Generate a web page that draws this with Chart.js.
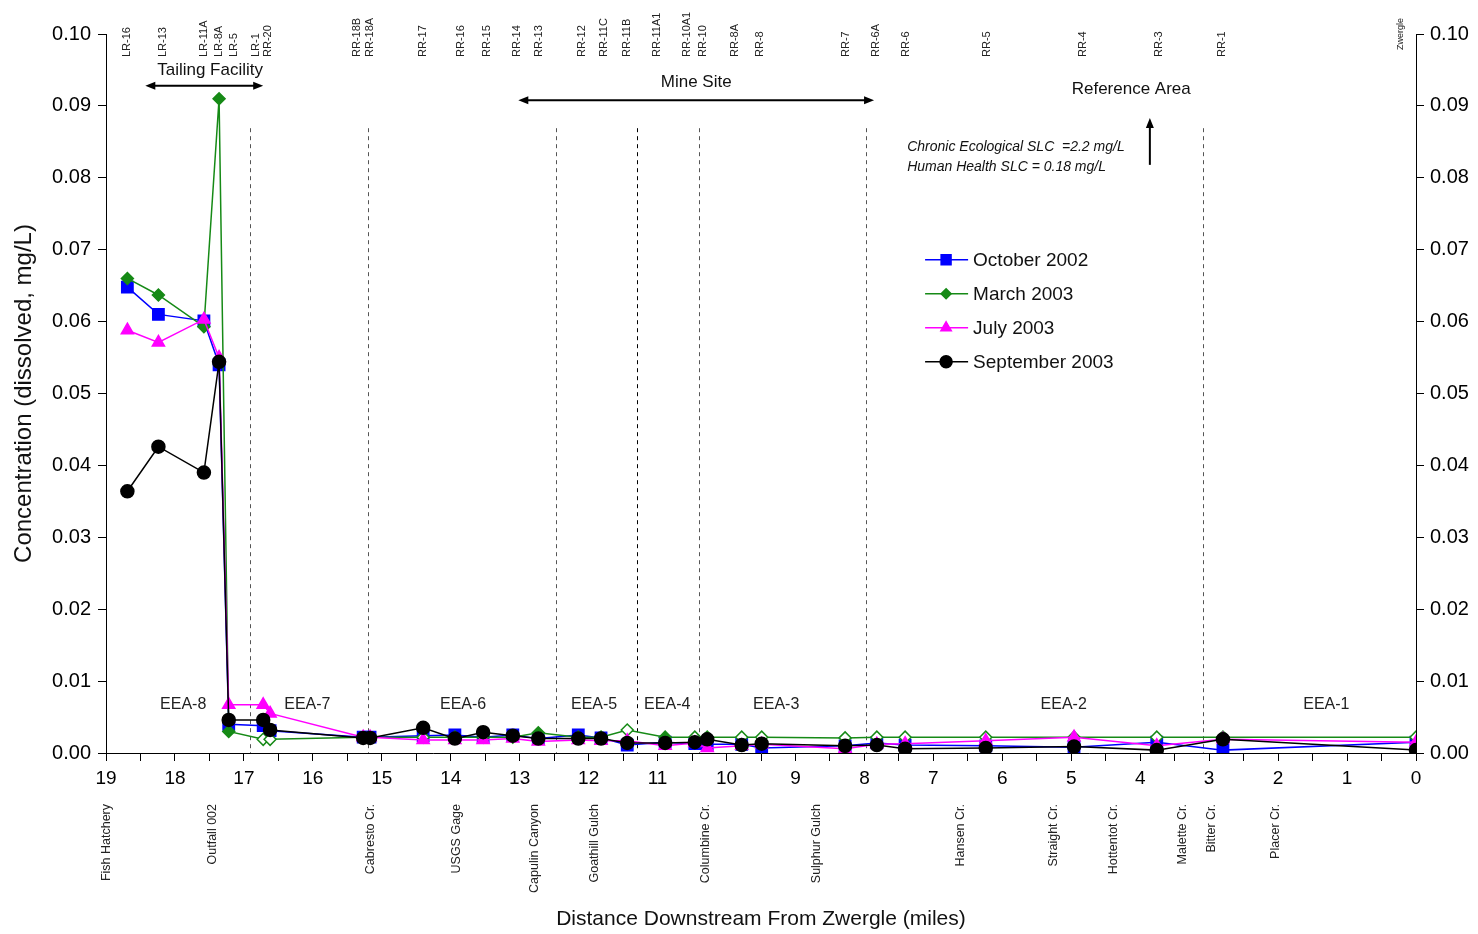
<!DOCTYPE html>
<html>
<head>
<meta charset="utf-8">
<script src="https://cdn.jsdelivr.net/npm/chart.js"></script>
<style>
  body { margin: 0; background: #fff; }
  #wrap { width: 1478px; height: 934px; }
</style>
</head>
<body>
<div id="wrap"><canvas id="chart" width="1478" height="934"></canvas></div>
<script>
// station positions, miles downstream of Zwergle
const miles = [18.69, 18.24, 17.58, 17.36, 17.22, 16.72, 16.62, 15.27, 15.17, 14.40,
               13.94, 13.53, 13.10, 12.73, 12.15, 11.82, 11.44, 10.89, 10.46, 10.28,
               9.78, 9.49, 8.28, 7.82, 7.41, 6.24, 4.96, 3.76, 2.80, 0.00]

const oct2002 = [0.0648, 0.0610, 0.0601, 0.0540, 0.0040, 0.0038, 0.0031, 0.0022, 0.0022, 0.0024,
                 0.0025, 0.0022, 0.0025, 0.0020, 0.0025, 0.0021, 0.0011, 0.0015, 0.0013, 0.0012,
                 0.0012, 0.0007, 0.0010, 0.0014, 0.0011, 0.0010, 0.0008, 0.0015, 0.0004, 0.0015]
const mar2003 = [0.0660, 0.0637, 0.0593, 0.0910, 0.0030, 0.0019, 0.0019, 0.0022, 0.0022, 0.0022,
                 0.0022, 0.0022, 0.0022, 0.0028, 0.0022, 0.0022, 0.0032, 0.0022, 0.0022, 0.0022,
                 0.0022, 0.0022, 0.0021, 0.0022, 0.0022, 0.0022, 0.0022, 0.0022, 0.0022, 0.0022]
// false = open marker (at detection limit)
const mar2003Detected = [true, true, true, true, true, false, false, false, false, false,
                         false, false, false, true, false, false, false, true, false, false,
                         false, false, false, false, false, false, false, false, false, false]
const jul2003 = [0.0588, 0.0571, 0.0603, 0.0550, 0.0067, 0.0067, 0.0055, 0.0022, 0.0022, 0.0018,
                 0.0018, 0.0018, 0.0020, 0.0016, 0.0018, 0.0017, 0.0017, 0.0010, 0.0014, 0.0007,
                 0.0010, 0.0012, 0.0006, 0.0012, 0.0013, 0.0017, 0.0022, 0.0010, 0.0019, 0.0015]
const sep2003 = [0.0364, 0.0426, 0.0390, 0.0544, 0.0046, 0.0046, 0.0032, 0.0021, 0.0021, 0.0035,
                 0.0020, 0.0029, 0.0024, 0.0020, 0.0020, 0.0020, 0.0014, 0.0014, 0.0015, 0.0019,
                 0.0011, 0.0013, 0.0010, 0.0011, 0.0006, 0.0007, 0.0009, 0.0004, 0.0019, 0.0004]

// sampling station names along the top
const stationNames = ["LR-16", "LR-13", "LR-11A", "LR-8A", "LR-5", "LR-1", "RR-20", "RR-18B", "RR-18A",
                      "RR-17", "RR-16", "RR-15", "RR-14", "RR-13", "RR-12", "RR-11C", "RR-11B", "RR-11A1",
                      "RR-10A1", "RR-10", "RR-8A", "RR-8", "RR-7", "RR-6A", "RR-6", "RR-5", "RR-4", "RR-3", "RR-1"]
const stationMiles = [18.69, 18.17, 17.58, 17.36, 17.14, 16.82, 16.65, 15.36, 15.17,
                      14.40, 13.85, 13.47, 13.04, 12.72, 12.10, 11.78, 11.44, 11.01,
                      10.57, 10.34, 9.88, 9.51, 8.27, 7.83, 7.40, 6.22, 4.83, 3.73, 2.81]

// landmarks under the x axis
const landmarkNames = ["Fish Hatchery", "Outfall 002", "Cabresto Cr.", "USGS Gage", "Capulin Canyon",
                       "Goathill Gulch", "Columbine Cr.", "Sulphur Gulch", "Hansen Cr.", "Straight Cr.",
                       "Hottentot Cr.", "Malette Cr.", "Bitter Cr.", "Placer Cr."]
const landmarkMiles = [18.99, 17.45, 15.17, 13.92, 12.78, 11.92, 10.30, 8.69, 6.60, 5.25, 4.39, 3.39, 2.96, 2.04]

// evaluation areas and their boundaries
const eeaNames = ["EEA-8", "EEA-7", "EEA-6", "EEA-5", "EEA-4", "EEA-3", "EEA-2", "EEA-1"]
const eeaMiles = [17.88, 16.08, 13.82, 11.92, 10.86, 9.28, 5.11, 1.30]
const boundaryMiles = [16.91, 15.20, 12.47, 11.30, 10.40, 7.98, 3.09]

function pts(vals) {
    return vals.map((v, i) => ({ x: miles[i], y: v }))
}

const FONT = "'Liberation Sans', Arial, sans-serif"

const extras = {
    id: 'extras',
    beforeDatasetsDraw(chart) {
        const ctx = chart.ctx
        const xs = chart.scales.x, ys = chart.scales.y
        ctx.save()
        ctx.lineWidth = 1
        ctx.setLineDash([4, 4])
        boundaryMiles.forEach((m, i) => {
            const px = Math.round(xs.getPixelForValue(m)) + 0.5
            ctx.strokeStyle = i == 3 ? '#000' : '#555'
            ctx.beginPath()
            ctx.moveTo(px, ys.getPixelForValue(0.0869))
            ctx.lineTo(px, ys.bottom)
            ctx.stroke()
        })
        ctx.restore()
    },
    afterDraw(chart) {
        const ctx = chart.ctx
        const xs = chart.scales.x, ys = chart.scales.y
        ctx.save()
        ctx.fillStyle = '#222'

        // station labels at the top
        ctx.font = '11px ' + FONT
        ctx.textAlign = 'left'
        ctx.textBaseline = 'middle'
        stationNames.forEach((name, i) => {
            ctx.save()
            ctx.translate(xs.getPixelForValue(stationMiles[i]), 57)
            ctx.rotate(-Math.PI / 2)
            ctx.fillText(name, 0, 0)
            ctx.restore()
        })
        ctx.font = '9px ' + FONT
        ctx.save()
        ctx.translate(xs.getPixelForValue(0.23), 50)
        ctx.rotate(-Math.PI / 2)
        ctx.fillText('Zwergle', 0, 0)
        ctx.restore()

        // landmark labels below the axis
        ctx.font = '12.5px ' + FONT
        ctx.textAlign = 'right'
        landmarkNames.forEach((name, i) => {
            ctx.save()
            ctx.translate(xs.getPixelForValue(landmarkMiles[i]), 804)
            ctx.rotate(-Math.PI / 2)
            ctx.fillText(name, 0, 0)
            ctx.restore()
        })

        // EEA labels
        ctx.font = '16px ' + FONT
        ctx.textAlign = 'center'
        eeaNames.forEach((name, i) => {
            ctx.fillText(name, xs.getPixelForValue(eeaMiles[i]), ys.getPixelForValue(0.0068))
        })

        // area labels and arrows
        ctx.font = '17px ' + FONT
        ctx.fillStyle = '#111'
        ctx.fillText('Tailing Facility', xs.getPixelForValue(17.49), ys.getPixelForValue(0.0950))
        ctx.fillText('Mine Site', xs.getPixelForValue(10.44), ys.getPixelForValue(0.0933))
        ctx.fillText('Reference Area', xs.getPixelForValue(4.13), ys.getPixelForValue(0.0923))

        function arrowHead(x, y, dx, dy) {
            const len = 10, w = 4
            ctx.beginPath()
            ctx.moveTo(x, y)
            ctx.lineTo(x - dx * len - dy * w, y - dy * len + dx * w)
            ctx.lineTo(x - dx * len + dy * w, y - dy * len - dx * w)
            ctx.closePath()
            ctx.fill()
        }
        function hArrow(m1, m2, v) {
            const x1 = xs.getPixelForValue(m1), x2 = xs.getPixelForValue(m2), y = ys.getPixelForValue(v)
            ctx.strokeStyle = '#000'
            ctx.fillStyle = '#000'
            ctx.lineWidth = 2
            ctx.beginPath()
            ctx.moveTo(x1 + 6, y)
            ctx.lineTo(x2 - 6, y)
            ctx.stroke()
            arrowHead(x1, y, -1, 0)
            arrowHead(x2, y, 1, 0)
        }
        hArrow(18.43, 16.72, 0.0928)
        hArrow(13.02, 7.86, 0.0908)

        // upward arrow to reference area
        const ax = xs.getPixelForValue(3.86)
        const ay1 = ys.getPixelForValue(0.0818), ay2 = ys.getPixelForValue(0.0883)
        ctx.lineWidth = 2
        ctx.beginPath()
        ctx.moveTo(ax, ay1)
        ctx.lineTo(ax, ay2 + 6)
        ctx.stroke()
        arrowHead(ax, ay2, 0, -1)

        // screening level note
        ctx.font = 'italic 14px ' + FONT
        ctx.fillStyle = '#111'
        ctx.textAlign = 'left'
        ctx.fillText('Chronic Ecological SLC  =2.2 mg/L', xs.getPixelForValue(7.38), ys.getPixelForValue(0.0843))
        ctx.fillText('Human Health SLC = 0.18 mg/L', xs.getPixelForValue(7.38), ys.getPixelForValue(0.0815))

        // legend
        const lx = xs.getPixelForValue(7.12)
        let ly = ys.getPixelForValue(0.0686)
        ctx.font = '19px ' + FONT
        chart.data.datasets.forEach(ds => {
            ctx.strokeStyle = ds.borderColor
            ctx.lineWidth = 1.5
            ctx.beginPath()
            ctx.moveTo(lx, ly)
            ctx.lineTo(lx + 43, ly)
            ctx.stroke()
            Chart.helpers.drawPoint(ctx, {
                pointStyle: ds.pointStyle, radius: ds.legendRadius, rotation: 0, borderWidth: 1
            }, lx + 21, ly)
            ctx.fillStyle = ds.borderColor
            ctx.strokeStyle = ds.borderColor
            ctx.fill()
            ctx.fillStyle = '#111'
            ctx.fillText(ds.label, lx + 48, ly + 1)
            ly += 34
        })
        ctx.restore()
    }
}

new Chart(document.getElementById("chart"), {
    type: 'line',
    data: {
        datasets: [{
            label: "October 2002",
            data: pts(oct2002),
            borderColor: "#0000ff",
            backgroundColor: "#0000ff",
            pointStyle: 'rect',
            pointRadius: 8,
            legendRadius: 7,
            borderWidth: 1.5,
            order: 3
        }, {
            label: "March 2003",
            data: pts(mar2003),
            borderColor: "#168a16",
            backgroundColor: "#168a16",
            pointBackgroundColor: mar2003Detected.map(d => d ? "#168a16" : "#ffffff"),
            pointBorderColor: "#168a16",
            pointStyle: 'rectRot',
            pointRadius: 6,
            legendRadius: 5,
            borderWidth: 1.5,
            order: 2
        }, {
            label: "July 2003",
            data: pts(jul2003),
            borderColor: "#ff00ff",
            backgroundColor: "#ff00ff",
            pointStyle: 'triangle',
            pointRadius: 7,
            legendRadius: 6,
            borderWidth: 1.5,
            order: 1
        }, {
            label: "September 2003",
            data: pts(sep2003),
            borderColor: "#000000",
            backgroundColor: "#000000",
            pointStyle: 'circle',
            pointRadius: 6.5,
            legendRadius: 6,
            borderWidth: 1.5,
            order: 0
        }]
    },
    options: {
        responsive: false,
        animation: false,
        layout: { padding: { top: 34, left: 0, right: 0, bottom: 0 } },
        plugins: {
            legend: { display: false },
            tooltip: { enabled: false }
        },
        elements: { line: { tension: 0 } },
        scales: {
            x: {
                type: 'linear',
                position: 'bottom',
                reverse: true,
                min: 0,
                max: 19,
                afterFit: s => { s.height = 181 },
                border: { color: '#000', width: 1 },
                grid: { drawOnChartArea: false, drawTicks: true, tickLength: 8, color: '#000' },
                ticks: {
                    stepSize: 0.5,
                    autoSkip: false,
                    maxRotation: 0,
                    padding: 6,
                    color: '#000',
                    font: { family: FONT, size: 19 },
                    callback: v => Number.isInteger(v) ? v : ''
                },
                title: {
                    display: true,
                    text: 'Distance Downstream From Zwergle (miles)',
                    color: '#111',
                    font: { family: FONT, size: 21 },
                    padding: { top: 0, bottom: 2 }
                }
            },
            y: {
                position: 'left',
                min: 0,
                max: 0.1,
                afterFit: s => { s.width = 106 },
                border: { color: '#000', width: 1 },
                grid: { drawOnChartArea: false, drawTicks: true, tickLength: 8, color: '#000' },
                ticks: {
                    stepSize: 0.01,
                    padding: 7,
                    color: '#000',
                    font: { family: FONT, size: 20 },
                    callback: v => v.toFixed(2)
                },
                title: {
                    display: true,
                    text: 'Concentration (dissolved, mg/L)',
                    color: '#111',
                    font: { family: FONT, size: 24 },
                    padding: { top: 10, bottom: 0 }
                }
            },
            y2: {
                position: 'right',
                min: 0,
                max: 0.1,
                afterFit: s => { s.width = 62 },
                border: { color: '#000', width: 1 },
                grid: { drawOnChartArea: false, drawTicks: true, tickLength: 8, color: '#000' },
                ticks: {
                    stepSize: 0.01,
                    padding: 6,
                    color: '#000',
                    font: { family: FONT, size: 20 },
                    callback: v => v.toFixed(2)
                }
            }
        }
    },
    plugins: [extras]
});
</script>
</body>
</html>
